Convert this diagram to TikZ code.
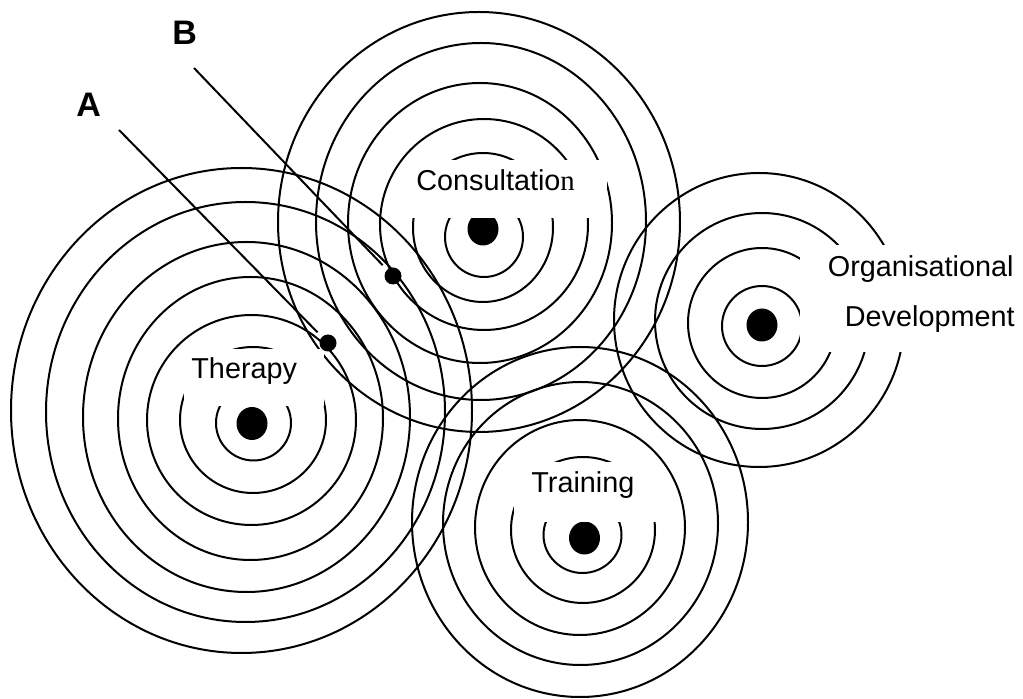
\documentclass[tikz,border=0pt]{standalone}
\usepackage{fontspec}
\setmainfont{Liberation Sans}
\newfontfamily\serifletter{Liberation Serif}
\usetikzlibrary{shapes.geometric}

\begin{document}
\begin{tikzpicture}[
  x = 0.5pt, y = -0.5pt,
  ring/.style = {line width=1pt},
  hub/.style = {
    ellipse, fill=black, inner sep=0pt,
    minimum width=15.5pt, minimum height=16.5pt
  },
  spot/.style = {circle, fill=black, inner sep=0pt, minimum size=8.5pt},
  maskbox/.style = {fill=white},
  areatext/.style = {inner sep=0pt, font=\fontsize{14.4}{17}\selectfont},
  letter/.style = {inner sep=0pt, font=\fontsize{17}{20}\selectfont\bfseries},
  pointer/.style = {line width=1pt, shorten >=3pt}
]
\useasboundingbox (0,0) rectangle (1023,699);
%--- THERAPY ---
\draw[ring] (241.5,410.5) ellipse [x radius=230.5, y radius=242.5];
\draw[ring] (245.5,412)   ellipse [x radius=199.5, y radius=210];
\draw[ring] (246.5,417)   ellipse [x radius=163.5, y radius=175];
\draw[ring] (250.5,418.5) ellipse [x radius=132.5, y radius=141.5];
\draw[ring] (251.5,420)   ellipse [x radius=104.5, y radius=105];
\draw[ring] (253,420)     ellipse [x radius=73,    y radius=73];
\draw[ring] (253.5,423)   ellipse [x radius=37.5,  y radius=37.5];
%--- CONSULTATION ---
\draw[ring] (479,222)   ellipse [x radius=201, y radius=210];
\draw[ring] (481,221.5) ellipse [x radius=165, y radius=178.5];
\draw[ring] (480,223)   ellipse [x radius=132, y radius=140];
\draw[ring] (484,224.5) ellipse [x radius=104, y radius=105.5];
\draw[ring] (483,227.5) ellipse [x radius=70,  y radius=74.5];
\draw[ring] (484,237)   ellipse [x radius=39,  y radius=40];
%--- ORGANISATIONAL DEVELOPMENT ---
\draw[ring] (759,320) ellipse [x radius=145, y radius=147];
\draw[ring] (762,321) ellipse [x radius=107, y radius=108];
\draw[ring] (762,323) ellipse [x radius=74,  y radius=75];
\draw[ring] (762,326) ellipse [x radius=40,  y radius=40];
%--- TRAINING ---
\draw[ring] (580,522)   ellipse [x radius=168,   y radius=175];
\draw[ring] (580.5,523.5) ellipse [x radius=137.5, y radius=141.5];
\draw[ring] (580,527.5) ellipse [x radius=105,   y radius=107.5];
\draw[ring] (583,530)   ellipse [x radius=72,    y radius=73];
\draw[ring] (582.5,535) ellipse [x radius=39,    y radius=38];
%--- CENTRES ---
\node[hub] (therapyhub)  at (252,423.5) {};
\node[hub] (consulthub)  at (483,229)   {};
\node[hub] (orghub)      at (762,325)   {};
\node[hub] (traininghub) at (584.5,538) {};
%--- TEXT BOXES ---
\fill[maskbox] (184,349) rectangle (324,406);
\fill[maskbox] (408,160) rectangle (607,218);
\fill[maskbox] (514,462) rectangle (659,522);
\fill[maskbox] (800,245) rectangle (1023,352);
\node[areatext, anchor=base west] (therapy)  at (191,379) {Therapy};
\node[areatext, anchor=base west] (consult)  at (416,191) {Consultatio{\serifletter n}};
\node[areatext, anchor=base west] (training) at (531,493) {Training};
\node[areatext, anchor=base east] (organisational) at (1014,277) {Organisational};
\node[areatext, anchor=base east] (development)    at (1015,327) {Development};
%--- POINTERS A AND B ---
\node[letter, anchor=base west] (labA) at (76,117) {A};
\node[letter, anchor=base west] (labB) at (172,45) {B};
\node[spot] (dotA) at (328,343) {};
\node[spot] (dotB) at (393,276) {};
\coordinate (tailA) at (119,130);
\coordinate (tailB) at (194,68);
\draw[pointer] (tailA) -- (dotA);
\draw[pointer] (tailB) -- (dotB);
\end{tikzpicture}
\end{document}
